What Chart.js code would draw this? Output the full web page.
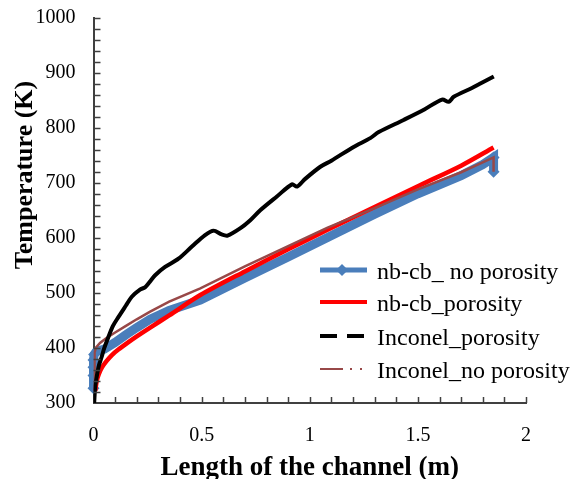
<!DOCTYPE html>
<html><head><meta charset="utf-8">
<script src="https://cdn.jsdelivr.net/npm/chart.js@4/dist/chart.umd.min.js"></script>
<style>html,body{margin:0;padding:0;background:#fff;}#wrap{width:573px;height:479px;}</style>
</head><body><div id="wrap"><canvas id="c" width="573" height="479"></canvas></div>
<script>
// ---- data ----
const seriesNames = ['nb-cb_ no porosity', 'nb-cb_porosity', 'Inconel_porosity', 'Inconel_no porosity'];
const xTitle = 'Length of the channel (m)';
const yTitle = 'Temperature (K)';
const xTicks = [0, 0.5, 1, 1.5, 2];
const yTicks = [300, 400, 500, 600, 700, 800, 900, 1000];

const nbNoPorX = [0, 0, 0, 0, 0.003, 0.01, 0.025, 0.05, 0.1, 0.15, 0.2, 0.262, 0.35, 0.494, 0.7, 0.9, 1.08, 1.3, 1.5, 1.7, 1.8, 1.85, 1.85];
const nbNoPorT = [327, 350, 365, 378, 388, 392, 395, 398, 410, 424, 437, 452, 468, 487, 527, 565, 600, 643, 680, 713, 733, 746, 720];

const nbPorX = [0.008, 0.015, 0.025, 0.04, 0.06, 0.085, 0.115, 0.16, 0.2, 0.262, 0.35, 0.494, 0.7, 0.9, 1.08, 1.3, 1.512, 1.7, 1.85];
const nbPorT = [322, 340, 353, 365, 376, 387, 397, 410, 421, 437, 459, 496, 539, 579, 614, 656, 696, 731, 764];

const incPorX = [0.003, 0.008, 0.015, 0.025, 0.038, 0.05, 0.069, 0.09, 0.115, 0.15, 0.177, 0.215, 0.238, 0.26, 0.285, 0.331, 0.393, 0.455, 0.516, 0.555, 0.593, 0.62, 0.678, 0.725, 0.771, 0.848, 0.918, 0.941, 0.979, 1.049, 1.1, 1.203, 1.28, 1.319, 1.434, 1.53, 1.612, 1.643, 1.666, 1.75, 1.789, 1.851];
const incPorT = [300, 330, 348, 368, 384, 400, 420, 440, 456, 477, 493, 506, 510, 520, 532, 547, 562, 584, 605, 613, 606, 604, 617, 632, 650, 675, 697, 693, 707, 729, 740, 765, 781, 792, 814, 833, 851, 847, 856, 872, 880, 893];

const incNoPorX = [0.005, 0.005, 0.012, 0.03, 0.06, 0.1, 0.15, 0.2, 0.262, 0.35, 0.494, 0.7, 0.9, 1.08, 1.3, 1.5, 1.7, 1.85, 1.85];
const incNoPorT = [330, 392, 401, 409, 418, 428, 440, 452, 466, 484, 508, 548, 585, 618, 654, 688, 719, 746, 720];

const pts = (xs, ys) => xs.map((x, i) => ({x: x, y: ys[i]}));

const BLUE = '#4A7EBB', RED = '#FF0000', BLACK = '#000000', BROWN = '#984848';
const SERIF = "'Liberation Serif','Times New Roman',serif";
const AXIS = '#404040';

const legendStyles = [
  {color: BLUE, width: 5, dash: [], marker: true},
  {color: RED, width: 4, dash: []},
  {color: BLACK, width: 4, dash: [17, 10]},
  {color: BROWN, width: 2, dash: [23, 7, 2, 8, 2, 20]}
];

const decor = {
  id: 'decor',
  afterDraw(chart) {
    const ctx = chart.ctx, xs = chart.scales.x, ys = chart.scales.y;
    const area = chart.chartArea;
    ctx.save();
    // inward minor ticks
    ctx.strokeStyle = AXIS; ctx.lineWidth = 1.5;
    for (let k = 1; k <= 20; k++) {
      const px = Math.round(xs.getPixelForValue(k / 10)) + 0.5;
      ctx.beginPath(); ctx.moveTo(px, area.bottom); ctx.lineTo(px, area.bottom - 6); ctx.stroke();
    }
    for (let v = 320; v <= 1000; v += 20) {
      const py = Math.round(ys.getPixelForValue(v)) + 0.5;
      ctx.beginPath(); ctx.moveTo(area.left, py); ctx.lineTo(area.left + 7, py); ctx.stroke();
    }
    // y title
    ctx.fillStyle = '#000';
    ctx.font = 'bold 26px ' + SERIF;
    ctx.textAlign = 'center'; ctx.textBaseline = 'middle';
    ctx.translate(25, 175); ctx.rotate(-Math.PI / 2);
    ctx.fillText(yTitle, 0, 0);
    ctx.restore();

    // legend
    ctx.save();
    const rowY = [270, 302, 336, 369];
    chart.data.datasets.forEach((ds, i) => {
      const st = legendStyles[i];
      const y = rowY[i];
      ctx.strokeStyle = st.color; ctx.lineWidth = st.width; ctx.setLineDash(st.dash);
      ctx.lineCap = 'butt';
      ctx.beginPath(); ctx.moveTo(320, y); ctx.lineTo(367, y); ctx.stroke();
      ctx.setLineDash([]);
      if (st.marker) {
        ctx.fillStyle = st.color;
        ctx.beginPath(); ctx.moveTo(342, y - 6); ctx.lineTo(348, y); ctx.lineTo(342, y + 6); ctx.lineTo(336, y); ctx.closePath(); ctx.fill();
      }
      ctx.fillStyle = '#000';
      ctx.font = '24px ' + SERIF;
      ctx.textAlign = 'left'; ctx.textBaseline = 'alphabetic';
      ctx.fillText(ds.label, 377, y + 9);
    });
    ctx.restore();
  }
};

const blueMarkerIdx = i => (i <= 4 || i >= nbNoPorX.length - 2);

new Chart(document.getElementById('c'), {
  type: 'scatter',
  data: {
    datasets: [
      {label: seriesNames[0], data: pts(nbNoPorX, nbNoPorT), showLine: true, borderColor: BLUE, backgroundColor: BLUE,
       borderWidth: 9, tension: 0, pointStyle: 'rectRot', pointRadius: c => blueMarkerIdx(c.dataIndex) ? 6 : 0,
       pointBorderWidth: 0, order: 3, clip: false},
      {label: seriesNames[1], data: pts(nbPorX, nbPorT), showLine: true, borderColor: RED, backgroundColor: RED,
       borderWidth: 4.5, tension: 0.3, pointRadius: 0, order: 2},
      {label: seriesNames[2], data: pts(incPorX, incPorT), showLine: true, borderColor: BLACK, backgroundColor: BLACK,
       borderWidth: 4, tension: 0.3, pointRadius: 0, order: 0},
      {label: seriesNames[3], data: pts(incNoPorX, incNoPorT), showLine: true, borderColor: BROWN, backgroundColor: BROWN,
       borderWidth: 2.5, tension: 0, pointRadius: 0, order: 1}
    ]
  },
  options: {
    responsive: false, animation: false, devicePixelRatio: 1,
    layout: {padding: {top: 17.5, right: 47, bottom: 0, left: 0}},
    plugins: {legend: {display: false}, tooltip: {enabled: false}},
    scales: {
      x: {
        type: 'linear', min: 0, max: 2,
        afterBuildTicks: s => { s.ticks = xTicks.map(v => ({value: v})); },
        afterFit: s => { s.height = 76; s.paddingLeft = 0; s.paddingRight = 0; },
        ticks: {color: '#000', font: {family: SERIF, size: 20}, padding: 21, maxRotation: 0, callback: v => String(v)},
        grid: {display: true, drawOnChartArea: false, drawTicks: false},
        border: {display: true, color: AXIS, width: 2},
        title: {display: true, text: xTitle, color: '#000', font: {family: SERIF, size: 27, weight: 'bold', lineHeight: 1}, padding: {top: 0, bottom: -3}}
      },
      y: {
        type: 'linear', min: 300, max: 1000,
        afterBuildTicks: s => { s.ticks = yTicks.map(v => ({value: v})); },
        afterFit: s => { s.width = 93.5; s.paddingTop = 0; s.paddingBottom = 0; },
        ticks: {color: '#000', font: {family: SERIF, size: 20}, padding: 18, callback: v => String(v)},
        grid: {display: true, drawOnChartArea: false, drawTicks: false},
        border: {display: true, color: AXIS, width: 2}
      }
    }
  },
  plugins: [decor]
});
</script></body></html>
